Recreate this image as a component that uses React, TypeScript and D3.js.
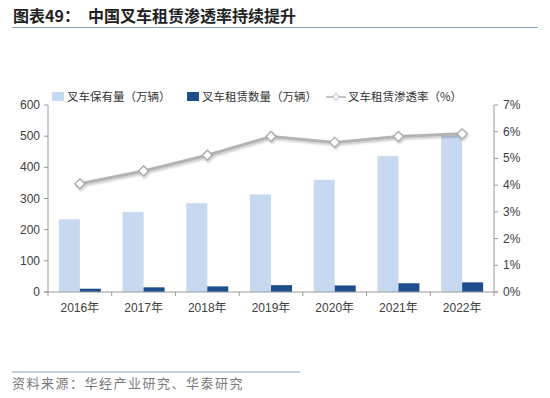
import React from "react";
import * as d3 from "d3";

const years = ["2016年", "2017年", "2018年", "2019年", "2020年", "2021年", "2022年"];
const stock = [233, 257, 285, 313, 360, 436, 507];
const rental = [10.5, 15, 18, 22, 21, 28, 31];
const rate = [4.05, 4.53, 5.12, 5.82, 5.6, 5.82, 5.92];
const leftTicks = [0, 100, 200, 300, 400, 500, 600];
const rightTicks = [0, 1, 2, 3, 4, 5, 6, 7];

const W = 550, H = 398;
const X0 = 48, X1 = 494, Y0 = 292, Y1 = 105;
const FONT = "'Liberation Sans', Arial, 'Noto Sans CJK SC', sans-serif";
const CJK = "'Noto Sans CJK SC', sans-serif";
const LIGHT = "#c6d9f1";
const DARK = "#1f4e8c";
const AXIS = "#9a9a9a";

export default function App() {
  const x = d3.scaleBand<string>().domain(years).range([X0, X1]);
  const yL = d3.scaleLinear().domain([0, 600]).range([Y0, Y1]);
  const yR = d3.scaleLinear().domain([0, 7]).range([Y0, Y1]);
  const bw = 21;
  const line = d3
    .line<number>()
    .x((_, i) => (x(years[i]) as number) + x.bandwidth() / 2)
    .y((d) => yR(d));
  const boundaries = years.map((y) => x(y) as number).concat([X1]);

  return (
    <svg width={W} height={H} style={{ position: "absolute", left: 0, top: 0, background: "#fff" }}>
      <defs>
        <filter id="sh" x="-10%" y="-50%" width="120%" height="200%">
          <feDropShadow dx="1" dy="1.5" stdDeviation="1" floodColor="#000" floodOpacity="0.25" />
        </filter>
      </defs>
      <rect width={W} height={H} fill="#fff" />
      {/* title */}
      <text x={13} y={22} fontFamily={CJK} fontWeight="bold" fontSize={16} fill="#222">
        <tspan>图表49：</tspan>
        <tspan x={88}>中国叉车租赁渗透率持续提升</tspan>
      </text>
      <line x1={12} x2={538} y1={27.5} y2={27.5} stroke="#8aa4c8" strokeWidth={1.2} />
      {/* legend */}
      <rect x={52} y={92} width={12} height={9} fill={LIGHT} />
      <text x={67} y={101} fontFamily={CJK} fontSize={11.5} fill="#333">叉车保有量（万辆）</text>
      <rect x={187} y={92} width={12} height={9} fill={DARK} />
      <text x={202} y={101} fontFamily={CJK} fontSize={11.5} fill="#333">叉车租赁数量（万辆）</text>
      <line x1={326} x2={346} y1={97} y2={97} stroke="#b5b5b5" strokeWidth={1.5} />
      <path d="M336,93.5 L339.5,97 L336,100.5 L332.5,97 Z" fill="#fff" stroke="#aaa" strokeWidth={1} />
      <text x={348} y={101} fontFamily={CJK} fontSize={11.5} fill="#333">叉车租赁渗透率（%）</text>
      {/* bars */}
      {years.map((yr, i) => {
        const cx = (x(yr) as number) + x.bandwidth() / 2;
        return (
          <g key={yr}>
            <rect x={cx - bw} y={yL(stock[i])} width={bw} height={Y0 - yL(stock[i])} fill={LIGHT} />
            <rect x={cx} y={yL(rental[i])} width={bw} height={Y0 - yL(rental[i])} fill={DARK} />
          </g>
        );
      })}
      {/* axes */}
      <line x1={X0} x2={X0} y1={Y1} y2={Y0} stroke={AXIS} />
      <line x1={X1} x2={X1} y1={Y1} y2={Y0} stroke={AXIS} />
      <line x1={X0 - 4} x2={X1 + 4} y1={Y0} y2={Y0} stroke={AXIS} />
      {leftTicks.map((t) => (
        <g key={"l" + t}>
          <line x1={X0 - 4} x2={X0} y1={yL(t)} y2={yL(t)} stroke={AXIS} />
          <text x={40} y={yL(t) + 4} textAnchor="end" fontFamily={FONT} fontSize={12} fill="#404040">
            {t}
          </text>
        </g>
      ))}
      {rightTicks.map((t) => (
        <g key={"r" + t}>
          <line x1={X1} x2={X1 + 4} y1={yR(t)} y2={yR(t)} stroke={AXIS} />
          <text x={503} y={yR(t) + 4} fontFamily={FONT} fontSize={12} fill="#404040">
            {t + "%"}
          </text>
        </g>
      ))}
      {boundaries.map((b, i) => (
        <line key={"b" + i} x1={b} x2={b} y1={Y0} y2={Y0 + 4} stroke={AXIS} />
      ))}
      {years.map((yr) => (
        <text
          key={"x" + yr}
          x={(x(yr) as number) + x.bandwidth() / 2}
          y={312}
          textAnchor="middle"
          fontFamily={FONT}
          fontSize={12}
          fill="#404040"
        >
          {yr}
        </text>
      ))}
      {/* line */}
      <g filter="url(#sh)">
        <path d={line(rate) || ""} fill="none" stroke="#b3b3b3" strokeWidth={3} />
        {rate.map((r, i) => {
          const cx = (x(years[i]) as number) + x.bandwidth() / 2;
          const cy = yR(r);
          return (
            <path
              key={"m" + i}
              d={`M${cx},${cy - 5} L${cx + 5},${cy} L${cx},${cy + 5} L${cx - 5},${cy} Z`}
              fill="#fff"
              stroke="#a8a8a8"
              strokeWidth={1.3}
            />
          );
        })}
      </g>
      {/* source */}
      <line x1={12} x2={300} y1={372} y2={372} stroke="#8aa4c8" strokeWidth={1.2} />
      <text x={12} y={388} fontFamily={CJK} fontSize={13} letterSpacing={1.5} fill="#7a7a7a">
        资料来源：华经产业研究、华泰研究
      </text>
    </svg>
  );
}
